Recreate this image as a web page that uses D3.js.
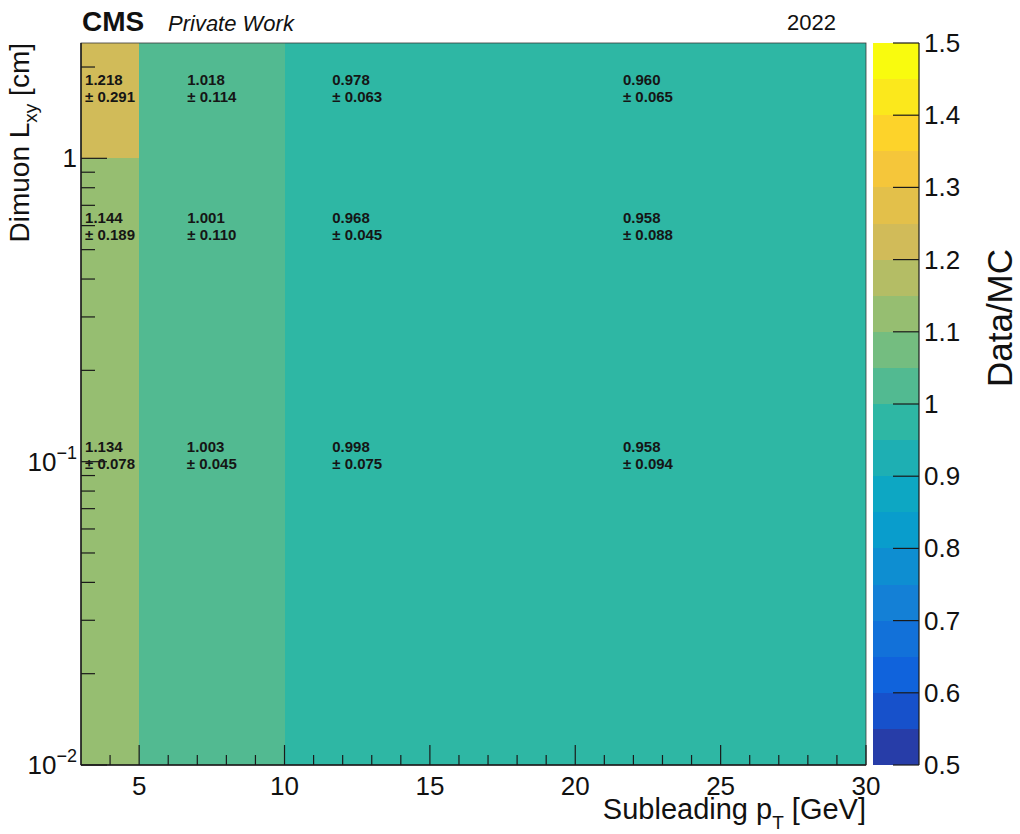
<!DOCTYPE html>
<html>
<head>
<meta charset="utf-8">
<script src="https://cdn.jsdelivr.net/npm/d3@7"></script>
<style>
  html, body { margin: 0; padding: 0; background: #fff; }
  svg { display: block; font-family: "Liberation Sans", Arial, Helvetica, sans-serif; }
</style>
</head>
<body>
<svg id="chart" width="1020" height="834"></svg>
<script>
// ---------------- data ----------------
const xEdges = [3, 5, 10, 15, 30];          // Subleading pT [GeV]
const yEdges = [0.01, 0.2, 1, 2.4];         // Dimuon Lxy [cm]
// rows from bottom (low Lxy) to top
const ratioRow0 = [1.134, 1.003, 0.998, 0.958];
const ratioRow1 = [1.144, 1.001, 0.968, 0.958];
const ratioRow2 = [1.218, 1.018, 0.978, 0.960];
const errRow0 = [0.078, 0.045, 0.075, 0.094];
const errRow1 = [0.189, 0.110, 0.045, 0.088];
const errRow2 = [0.291, 0.114, 0.063, 0.065];
const xTicks = [5, 10, 15, 20, 25, 30];
const yMajorTicks = [0.01, 0.1, 1];
const zTicks = [0.5, 0.6, 0.7, 0.8, 0.9, 1.0, 1.1, 1.2, 1.3, 1.4, 1.5];
const zLabels = ["0.5", "0.6", "0.7", "0.8", "0.9", "1", "1.1", "1.2", "1.3", "1.4", "1.5"];
const zMin = 0.5, zMax = 1.5, nContours = 20;

const ratios = [ratioRow0, ratioRow1, ratioRow2];
const errors = [errRow0, errRow1, errRow2];

// ---------------- layout ----------------
const L = 81, R = 866, T = 43, B = 765;
const cbL = 873, cbR = 919;

const svg = d3.select("#chart");
const x = d3.scaleLinear().domain([xEdges[0], xEdges[xEdges.length - 1]]).range([L, R]);
const y = d3.scaleLog().domain([yEdges[0], yEdges[yEdges.length - 1]]).range([B, T]);
const z = d3.scaleLinear().domain([zMin, zMax]).range([B, T]);

// kBird palette (ROOT)
const birdStops = [0.0, 0.125, 0.25, 0.375, 0.5, 0.625, 0.75, 0.875, 1.0];
const birdR = [0.2082, 0.0592, 0.0780, 0.0232, 0.1802, 0.5301, 0.8186, 0.9956, 0.9764];
const birdG = [0.1664, 0.3599, 0.5041, 0.6419, 0.7178, 0.7492, 0.7328, 0.7862, 0.9832];
const birdB = [0.5293, 0.8684, 0.8385, 0.7914, 0.6425, 0.4662, 0.3499, 0.1968, 0.0539];
const birdColors = birdStops.map((s, i) => d3.rgb(birdR[i] * 255, birdG[i] * 255, birdB[i] * 255));
const bird = d3.scaleLinear().domain(birdStops).range(birdColors).interpolate(d3.interpolateRgb);
function bandColor(i) {
  const idx = Math.floor((i + 0.99) * 255 / nContours);
  return bird(Math.min(idx, 254) / 254);
}
function valueColor(v) {
  let i = Math.floor((v - zMin) / (zMax - zMin) * nContours);
  i = Math.max(0, Math.min(nContours - 1, i));
  return bandColor(i);
}

// ---------------- cells ----------------
const cells = [];
ratios.forEach((row, j) => row.forEach((v, i) => {
  cells.push({ x0: xEdges[i], x1: xEdges[i + 1], y0: yEdges[j], y1: yEdges[j + 1], v, e: errors[j][i] });
}));

svg.append("g").attr("shape-rendering", "crispEdges")
  .selectAll("rect").data(cells).join("rect")
  .attr("x", d => Math.round(x(d.x0)))
  .attr("y", d => Math.round(y(d.y1)))
  .attr("width", d => Math.round(x(d.x1)) - Math.round(x(d.x0)))
  .attr("height", d => Math.round(y(d.y0)) - Math.round(y(d.y1)))
  .attr("fill", d => valueColor(d.v));

// cell text (linear bin centers, as ROOT does)
const tg = svg.append("g").attr("font-weight", "bold").attr("font-size", 15).attr("fill", "#151515");
cells.forEach(d => {
  const cx = x((d.x0 + d.x1) / 2);
  const cy = y((d.y0 + d.y1) / 2);
  const g = tg.append("g");
  const t1 = g.append("text").attr("y", cy - 3).text(d.v.toFixed(3));
  const t2 = g.append("text").attr("y", cy + 14).attr("xml:space", "preserve").text("\u00B1 " + d.e.toFixed(3));
  const w = Math.max(t1.node().getComputedTextLength(), t2.node().getComputedTextLength());
  t1.attr("x", cx - w / 2);
  t2.attr("x", cx - w / 2);
});

// ---------------- frame and axes ----------------
const axisColor = "#1a1a1a";
svg.append("rect").attr("x", L).attr("y", T).attr("width", R - L).attr("height", B - T)
  .attr("fill", "none").attr("stroke", "#3a3a3a").attr("stroke-width", 0.8);

// x ticks
const xg = svg.append("g").attr("stroke", axisColor).attr("stroke-width", 1.2);
d3.range(4, 31).forEach(v => {
  const major = v % 5 === 0;
  xg.append("line").attr("x1", x(v)).attr("x2", x(v)).attr("y1", B).attr("y2", B - (major ? 20 : 10));
});
svg.append("line").attr("x1", L).attr("x2", R).attr("y1", B).attr("y2", B).attr("stroke", axisColor).attr("stroke-width", 1.5);
svg.append("g").selectAll("text").data(xTicks).join("text")
  .attr("x", d => x(d)).attr("y", 795).attr("text-anchor", "middle")
  .attr("font-size", 26).attr("fill", "#111").text(d => d);

// x title
const xt = svg.append("text").attr("x", R).attr("y", 819).attr("text-anchor", "end")
  .attr("font-size", 29).attr("fill", "#111");
xt.append("tspan").text("Subleading p");
xt.append("tspan").attr("font-size", 19).attr("dy", 10).text("T");
xt.append("tspan").attr("dy", -10).text(" [GeV]");

// y ticks
const yg = svg.append("g").attr("stroke", axisColor).attr("stroke-width", 1.2);
const yMinor = [];
[0.01, 0.1, 1].forEach(dec => d3.range(2, 10).forEach(k => {
  const v = dec * k;
  if (v <= yEdges[yEdges.length - 1]) yMinor.push(v);
}));
yMinor.forEach(v => yg.append("line").attr("x1", L).attr("x2", L + 14).attr("y1", y(v)).attr("y2", y(v)));
yMajorTicks.forEach(v => yg.append("line").attr("x1", L).attr("x2", L + 26).attr("y1", y(v)).attr("y2", y(v)));
svg.append("line").attr("x1", L).attr("x2", L).attr("y1", T).attr("y2", B).attr("stroke", axisColor).attr("stroke-width", 1.5);

const ylab = svg.append("g").attr("font-size", 26).attr("fill", "#111");
yMajorTicks.forEach(v => {
  const e = Math.round(Math.log10(v));
  const t = ylab.append("text").attr("x", 77).attr("y", y(v) + 9).attr("text-anchor", "end");
  if (e === 0) {
    t.text("1");
  } else {
    t.append("tspan").text("10");
    t.append("tspan").attr("font-size", 18).attr("dy", -12).text("\u2212" + (-e));
  }
});

// y title
const yt = svg.append("text").attr("transform", "translate(29,43) rotate(-90)")
  .attr("text-anchor", "end").attr("font-size", 28).attr("fill", "#111");
yt.append("tspan").text("Dimuon L");
yt.append("tspan").attr("font-size", 19).attr("dy", 8).text("xy");
yt.append("tspan").attr("dy", -8).text(" [cm]");

// ---------------- color bar ----------------
const bands = d3.range(nContours);
const bandStep = (zMax - zMin) / nContours;
svg.append("g").attr("shape-rendering", "crispEdges")
  .selectAll("rect").data(bands).join("rect")
  .attr("x", cbL).attr("width", cbR - cbL)
  .attr("y", i => Math.round(z(zMin + (i + 1) * bandStep)))
  .attr("height", i => Math.round(z(zMin + i * bandStep)) - Math.round(z(zMin + (i + 1) * bandStep)))
  .attr("fill", i => bandColor(i));
svg.append("line").attr("x1", cbR).attr("x2", cbR).attr("y1", T).attr("y2", B).attr("stroke", axisColor).attr("stroke-width", 1.2);
svg.append("g").attr("stroke", axisColor).attr("stroke-width", 1.2)
  .selectAll("line").data(zTicks).join("line")
  .attr("x1", cbR - 26).attr("x2", cbR).attr("y1", d => z(d)).attr("y2", d => z(d));
svg.append("g").selectAll("text").data(zTicks).join("text")
  .attr("x", 924).attr("y", d => z(d) + 9).attr("font-size", 26).attr("fill", "#111")
  .text((d, i) => zLabels[i]);
svg.append("text").attr("transform", "translate(1012,318) rotate(-90)")
  .attr("text-anchor", "middle").attr("font-size", 35).attr("fill", "#111").text("Data/MC");

// ---------------- header ----------------
svg.append("text").attr("x", 82).attr("y", 31).attr("font-size", 28).attr("font-weight", "bold")
  .attr("fill", "#111").text("CMS");
svg.append("text").attr("x", 168).attr("y", 31).attr("font-size", 22).attr("font-style", "italic")
  .attr("fill", "#111").text("Private Work");
svg.append("text").attr("x", 836).attr("y", 30).attr("text-anchor", "end").attr("font-size", 22)
  .attr("fill", "#111").text("2022");
</script>
</body>
</html>
